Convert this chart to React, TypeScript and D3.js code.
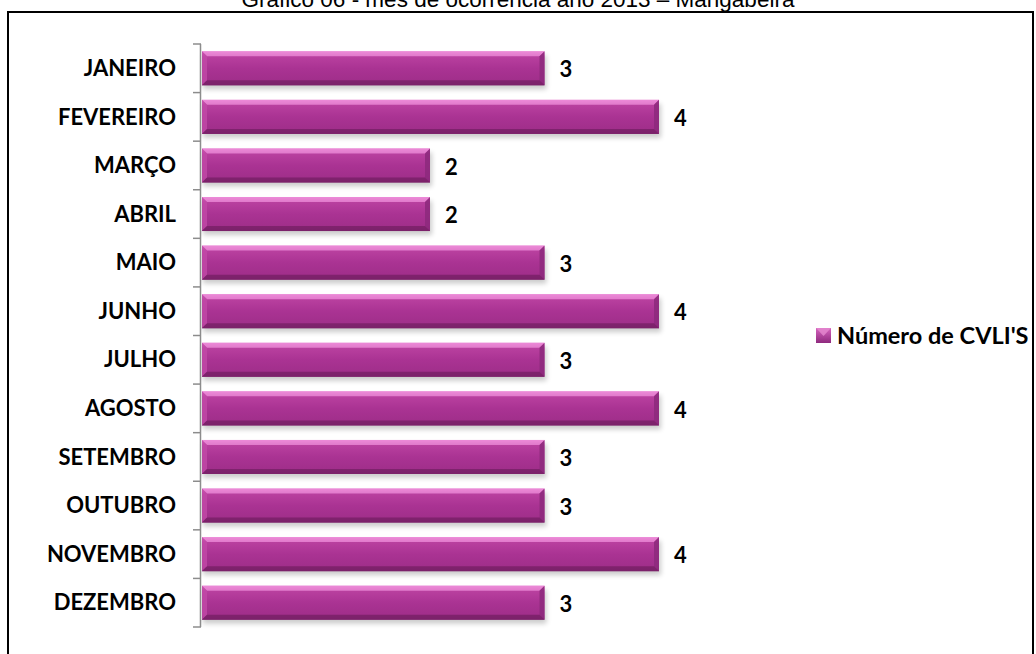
import React from "react";
import * as d3 from "d3";

const months = ["JANEIRO","FEVEREIRO","MARÇO","ABRIL","MAIO","JUNHO","JULHO","AGOSTO","SETEMBRO","OUTUBRO","NOVEMBRO","DEZEMBRO"];
const values = [3,4,2,2,3,4,3,4,3,3,4,3];
const seriesName = "Número de CVLI'S";
const title = "Gráfico 06 - mês de ocorrência ano 2013 – Mangabeira";

const W = 1036, H = 654;
const labelFont = "Lato, 'Open Sans', sans-serif";

export default function App() {
  const x = d3.scaleLinear().domain([0, 4]).range([201, 659]);
  const y = d3.scaleBand<string>().domain(months).range([44, 627]).paddingInner(0.3).paddingOuter(0.15);
  const bandStep = (627 - 44) / months.length;
  const b = 5;
  return (
    <svg width={W} height={H} style={{ position: "absolute", left: 0, top: 0, background: "#fff" }}>
      <defs>
        <linearGradient id="barg" x1="0" y1="0" x2="0" y2="1">
          <stop offset="0" stopColor="#E77ED0" />
          <stop offset="0.15" stopColor="#B9409F" />
          <stop offset="0.5" stopColor="#AA3393" />
          <stop offset="0.85" stopColor="#A12F8B" />
          <stop offset="1" stopColor="#7F2470" />
        </linearGradient>
        <filter id="shadow" x="-5%" y="-30%" width="110%" height="180%">
          <feGaussianBlur stdDeviation="2.5" />
        </filter>
        <linearGradient id="legg" x1="0" y1="0" x2="0" y2="1">
          <stop offset="0" stopColor="#D563BE" />
          <stop offset="1" stopColor="#8F2A7E" />
        </linearGradient>
      </defs>
      <rect x={0} y={0} width={W} height={H} fill="#fff" />
      <text x={518} y={7} textAnchor="middle" fontFamily="'Liberation Sans', Arial, sans-serif" fontSize={22.5} fill="#000">{title}</text>
      <path d={`M8,${H + 5} V12 H1033 V${H + 5}`} fill="none" stroke="#000" strokeWidth={2} />
      {months.map((m, i) => {
        const y0 = y(m)!, h = y.bandwidth(), x1 = x(values[i]);
        return <rect key={"s" + m} x={x(0) + 2} y={y0 + 4} width={x1 - x(0)} height={h} fill="#000" opacity={0.2} filter="url(#shadow)" />;
      })}
      <line x1={200.5} x2={200.5} y1={44} y2={627} stroke="#8c8c8c" strokeWidth={1.5} />
      {d3.range(months.length + 1).map(i => {
        const yy = 44 + i * bandStep;
        return <line key={"t" + i} x1={193} x2={201} y1={yy} y2={yy} stroke="#8c8c8c" strokeWidth={1.5} />;
      })}
      {months.map((m, i) => {
        const y0 = y(m)!, h = y.bandwidth(), x0 = x(0) + 1, x1 = x(values[i]);
        const cy = y0 + h / 2;
        return (
          <g key={m}>
            <rect x={x0} y={y0} width={x1 - x0} height={h} fill="url(#barg)" />
            <polygon points={`${x0},${y0} ${x1},${y0} ${x1 - b},${y0 + b} ${x0 + b},${y0 + b}`} fill="#EE8ED9" opacity={0.75} />
            <polygon points={`${x0},${y0} ${x0 + b},${y0 + b} ${x0 + b},${y0 + h - b} ${x0},${y0 + h}`} fill="#C24AA8" opacity={0.8} />
            <polygon points={`${x1},${y0} ${x1},${y0 + h} ${x1 - b},${y0 + h - b} ${x1 - b},${y0 + b}`} fill="#8E2A7D" opacity={0.9} />
            <polygon points={`${x0},${y0 + h} ${x1},${y0 + h} ${x1 - b},${y0 + h - b} ${x0 + b},${y0 + h - b}`} fill="#7A2169" opacity={0.85} />
            <text x={176} y={cy} dy="0.35em" textAnchor="end" fontFamily={labelFont} fontWeight={700} fontSize={22} fill="#000">{m}</text>
            <text x={x1 + 15} y={cy + 1.5} dy="0.35em" textAnchor="start" fontFamily={labelFont} fontWeight={700} fontSize={22} fill="#000">{values[i]}</text>
          </g>
        );
      })}
      <rect x={816} y={328} width={15} height={15} fill="url(#legg)" />
      <polygon points="816,328 831,328 823.5,336" fill="#E58ACF" opacity={0.8} />
      <text x={837} y={344} fontFamily={labelFont} fontWeight={700} fontSize={23.5} fill="#000">{seriesName}</text>
    </svg>
  );
}
